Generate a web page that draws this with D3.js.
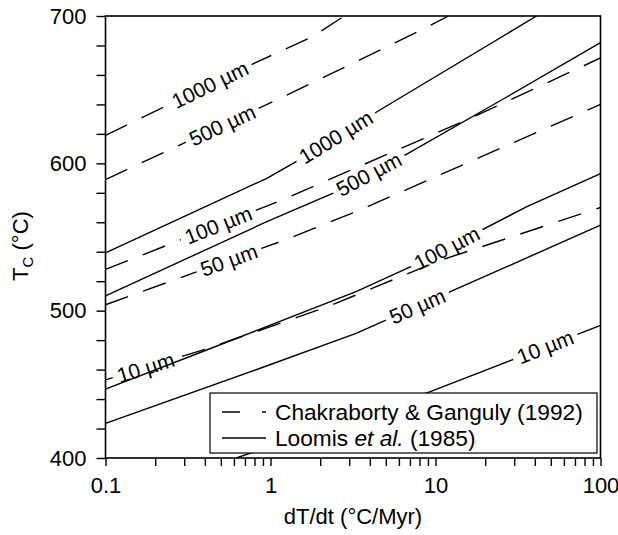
<!DOCTYPE html>
<html><head><meta charset="utf-8">
<script src="https://cdn.jsdelivr.net/npm/d3@7"></script>
<style>
body{margin:0;background:#fff}
text{font-family:"Liberation Sans",Arial,Helvetica,sans-serif;fill:#000}
</style>
</head><body>
<svg id="c" width="618" height="535"></svg>
<script>
// ---- data ----
const xTickLabels = [0.1, 1, 10, 100];
const yTickLabels = [400, 500, 600, 700];
const sizes = [1000, 500, 100, 50, 10];

// Chakraborty & Ganguly (1992) – dashed; [cooling rate, Tc]
const cg1000 = [[0.1,619],[0.8,668],[1.8,686],[2.8,700]];
const cg500  = [[0.1,589],[1.09,643],[3.03,667],[8.9,692.5],[12,700]];
const cg100  = [[0.1,528],[1.17,575],[2.0,586.4],[16.6,631],[77,665.6],[100,671.5]];
const cg50   = [[0.1,504],[1.25,548.4],[3.48,568.3],[100,640]];
const cg10   = [[0.1,453],[0.42,474.5],[2.22,502.7],[10.6,534],[100,570]];

// Loomis et al. (1985) – solid
const lo1000 = [[0.1,539.3],[0.95,589.8],[1.37,600],[4.6,636.2],[41,700]];
const lo500  = [[0.1,510],[0.95,560.4],[2.4,579.7],[6.7,606.3],[27.2,645.2],[100,682]];
const lo100  = [[0.1,446.8],[0.41,473.3],[3.3,512.9],[7.2,530.3],[35.8,570.6],[100,593]];
const lo50   = [[0.1,423.5],[0.866,460.9],[3.3,484.6],[12.3,512.9],[100,558]];
const lo10   = [[0.62,400],[9.3,445],[100,490]];

// label anchor rates along each curve
const cgLabelRates = [0.43, 0.51, 0.483, 0.56, 0.175];
const loLabelRates = [2.49, 3.95, 11.7, 7.77, 46.3];

const legendLabels = ["Chakraborty & Ganguly (1992)", "Loomis", "et al.", "(1985)"];

// ---- layout ----
const svg = d3.select("#c");
const m = {l:105.5, r:600.5, t:16, b:458};
const x = d3.scaleLog().domain([0.1,100]).range([m.l,m.r]);
const y = d3.scaleLinear().domain([400,700]).range([m.b,m.t]);

const defs = svg.append("defs");
defs.append("clipPath").attr("id","plotclip")
  .append("rect").attr("x",m.l).attr("y",m.t).attr("width",m.r-m.l).attr("height",m.b-m.t);

const curves = [];
[cg1000,cg500,cg100,cg50,cg10].forEach((c,i)=>curves.push({pts:c,dashed:true,size:sizes[i],lr:cgLabelRates[i]}));
[lo1000,lo500,lo100,lo50,lo10].forEach((c,i)=>curves.push({pts:c,dashed:false,size:sizes[i],lr:loLabelRates[i]}));

function locate(pts, r){
  for(let i=0;i<pts.length-1;i++){
    const a=pts[i], b=pts[i+1];
    if(r>=a[0] && r<=b[0]){
      const t=(Math.log(r)-Math.log(a[0]))/(Math.log(b[0])-Math.log(a[0]));
      const T=a[1]+t*(b[1]-a[1]);
      const ang=Math.atan2(y(b[1])-y(a[1]), x(b[0])-x(a[0]))*180/Math.PI;
      return {px:x(r), py:y(T), ang};
    }
  }
  return null;
}

const line = d3.line().x(d=>x(d[0])).y(d=>y(d[1]));
const labelG = svg.append("g");
const lineG = svg.append("g").attr("clip-path","url(#plotclip)");

curves.forEach((c,i)=>{
  const p = locate(c.pts, c.lr);
  const t = labelG.append("text")
    .attr("transform",`translate(${p.px},${p.py}) rotate(${p.ang})`)
    .attr("text-anchor","middle").attr("dy","0.35em")
    .style("font-size","21px")
    .text(c.size+" \u00b5m");
  const w = t.node().getComputedTextLength();
  const mk = defs.append("mask").attr("id","mk"+i).attr("maskUnits","userSpaceOnUse")
    .attr("x",0).attr("y",0).attr("width",618).attr("height",535);
  mk.append("rect").attr("x",0).attr("y",0).attr("width",618).attr("height",535).attr("fill","#fff");
  mk.append("rect").attr("transform",`translate(${p.px},${p.py}) rotate(${p.ang})`)
    .attr("x",-w/2-5).attr("y",-10).attr("width",w+10).attr("height",20).attr("fill","#000");
  lineG.append("path").attr("d",line(c.pts))
    .attr("fill","none").attr("stroke","#000").attr("stroke-width",1.4)
    .attr("stroke-dasharray", c.dashed ? "24,16" : null)
    .attr("mask",`url(#mk${i})`);
});

// ---- axes ----
const isDecade = d => Math.abs(Math.log10(d)-Math.round(Math.log10(d)))<1e-9;
const xAxis = d3.axisBottom(x).tickValues(x.ticks()).tickSize(8).tickPadding(11)
  .tickFormat(d => isDecade(d) ? String(xTickLabels.find(v=>Math.abs(v-d)<1e-9)) : "");
const yAxis = d3.axisLeft(y).tickValues(d3.range(400,701,20)).tickSize(9).tickPadding(10)
  .tickFormat(d => yTickLabels.includes(d) ? d : "");

const gx = svg.append("g").attr("transform",`translate(0,${m.b})`).call(xAxis);
const gy = svg.append("g").attr("transform",`translate(${m.l},0)`).call(yAxis);
[gx,gy].forEach(g=>{
  g.select(".domain").remove();
  g.selectAll("line").attr("stroke","#000").attr("stroke-width",1.4);
  g.selectAll("text").style("font-size","22px").attr("fill","#000").style("font-family",'"Liberation Sans",Arial,sans-serif');
});

svg.append("rect").attr("x",m.l).attr("y",m.t).attr("width",m.r-m.l).attr("height",m.b-m.t)
  .attr("fill","none").attr("stroke","#000").attr("stroke-width",1.6);

// axis titles
svg.append("text").attr("x",(m.l+m.r)/2).attr("y",524).attr("text-anchor","middle")
  .style("font-size","22px").text("dT/dt (\u00b0C/Myr)");
const yt = svg.append("text").attr("transform","translate(28,246) rotate(-90)").attr("text-anchor","middle")
  .style("font-size","22px");
yt.append("tspan").text("T");
yt.append("tspan").attr("dy",5).style("font-size","15px").text("C");
yt.append("tspan").attr("dy",-5).text(" (\u00b0C)");

// ---- legend ----
const lg = svg.append("g");
lg.append("rect").attr("x",210).attr("y",393).attr("width",387).attr("height",60)
  .attr("fill","#fff").attr("stroke","#000").attr("stroke-width",1.2);
lg.append("line").attr("x1",222).attr("x2",266).attr("y1",412).attr("y2",412)
  .attr("stroke","#000").attr("stroke-width",1.4).attr("stroke-dasharray","18,22");
lg.append("line").attr("x1",222).attr("x2",266).attr("y1",438).attr("y2",438)
  .attr("stroke","#000").attr("stroke-width",1.4);
lg.append("text").attr("x",275).attr("y",419.5).style("font-size","22.7px").text(legendLabels[0]);
const t2 = lg.append("text").attr("x",275).attr("y",445.5).style("font-size","22.7px");
t2.append("tspan").text(legendLabels[1]+" ");
t2.append("tspan").style("font-style","italic").text(legendLabels[2]);
t2.append("tspan").text(" "+legendLabels[3]);
</script>
</body></html>
